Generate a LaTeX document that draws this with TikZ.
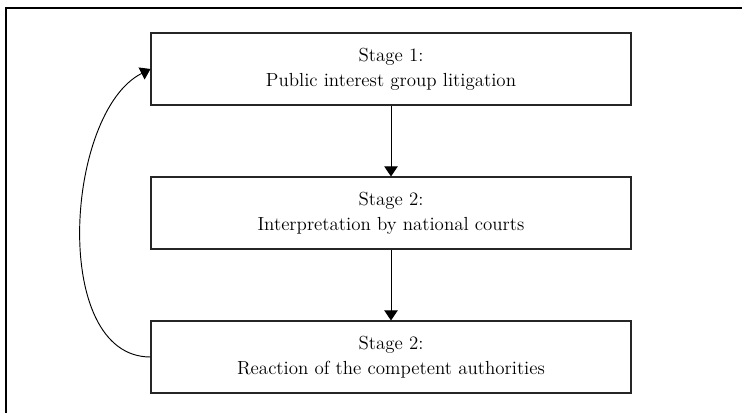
\documentclass[tikz,border=0pt]{standalone}
\usetikzlibrary{arrows.meta}
\tikzset{
  stagebox/.style={draw=black!85,line width=0.8pt,minimum width=360pt,minimum height=54pt,
    align=center,inner sep=0pt,font=\fontsize{14.2}{18.5}\selectfont},
  flow/.style={black,line width=0.7pt,-{Triangle[length=7.5pt,width=10pt]}}
}
\begin{document}
\begin{tikzpicture}[x=0.75pt,y=-0.75pt]
\useasboundingbox (0,0) rectangle (742,413);

%frame
\draw[black,line width=1.1pt] (6,413) -- (6,8) -- (742,8);

\node[stagebox] (s1) at (391,69) {Stage 1:\\Public interest group litigation};
\node[stagebox] (s2) at (391,213) {Stage 2:\\Interpretation by national courts};
\node[stagebox] (s3) at (391,357) {Stage 2:\\Reaction of the competent authorities};

%1->2
\draw[flow] (s1) -- (s2);
%2->3
\draw[flow] (s2) -- (s3);

%3->1
\draw[flow] (s3.west) .. controls (50,357) and (65,112) .. (s1.west);

\end{tikzpicture}
\end{document}
